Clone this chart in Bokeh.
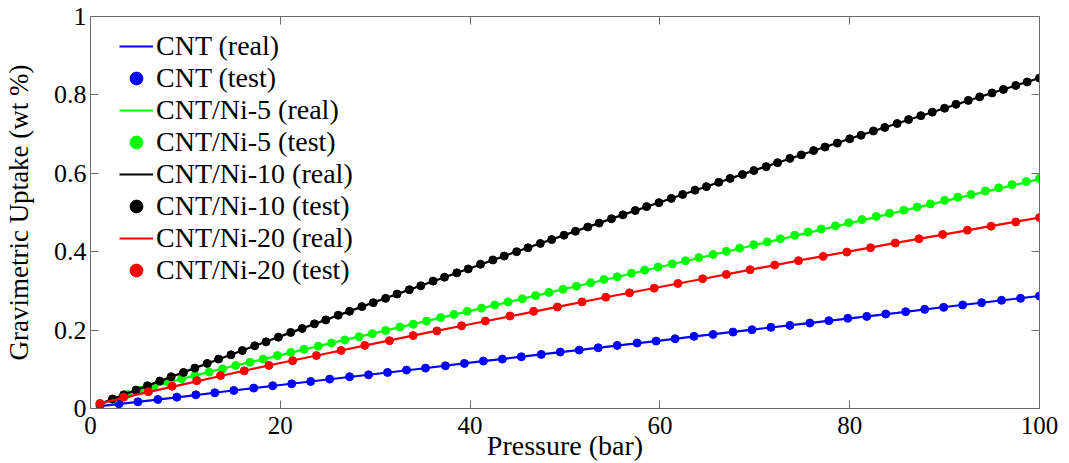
from bokeh.plotting import figure
from bokeh.models import Range1d, LinearAxis, FixedTicker, CustomJSTickFormatter
from bokeh.embed import file_html
from bokeh.resources import INLINE

# ---------------- data ----------------
real_p = [1, 5, 10, 15, 20, 25, 30, 35, 40, 45, 50, 55, 60, 65, 70, 75, 80, 85, 90, 95, 100]
cnt_real = [0.006, 0.017, 0.031, 0.046, 0.060, 0.074, 0.088, 0.102, 0.117, 0.131, 0.145,
            0.159, 0.173, 0.188, 0.202, 0.216, 0.230, 0.244, 0.259, 0.273, 0.287]
ni5_real = [0.010, 0.045, 0.078, 0.108, 0.136, 0.165, 0.193, 0.221, 0.249, 0.277, 0.305,
            0.333, 0.361, 0.389, 0.417, 0.445, 0.473, 0.501, 0.529, 0.557, 0.585]
ni10_real = [0.012, 0.049, 0.094, 0.139, 0.184, 0.228, 0.272, 0.315, 0.358, 0.401, 0.443,
             0.485, 0.526, 0.567, 0.608, 0.648, 0.688, 0.727, 0.766, 0.805, 0.843]
ni20_real = [0.013, 0.036, 0.063, 0.090, 0.116, 0.141, 0.166, 0.191, 0.215, 0.239, 0.263,
             0.287, 0.310, 0.333, 0.356, 0.379, 0.401, 0.423, 0.444, 0.466, 0.487]

cnt_test_p = [1.0, 3.0, 5.0, 7.1, 9.1, 11.1, 13.1, 15.1, 17.2, 19.2,
              21.2, 23.2, 25.2, 27.3, 29.3, 31.3, 33.3, 35.3, 37.4, 39.4,
              41.4, 43.4, 45.4, 47.5, 49.5, 51.5, 53.5, 55.5, 57.6, 59.6,
              61.6, 63.6, 65.6, 67.7, 69.7, 71.7, 73.7, 75.8, 77.8, 79.8,
              81.8, 83.8, 85.9, 87.9, 89.9, 91.9, 93.9, 96.0, 98.0, 100.0]
cnt_test = [0.006, 0.012, 0.017, 0.023, 0.029, 0.035, 0.040, 0.046, 0.052, 0.058,
            0.063, 0.069, 0.075, 0.081, 0.086, 0.092, 0.098, 0.103, 0.109, 0.115,
            0.121, 0.126, 0.132, 0.138, 0.144, 0.149, 0.155, 0.161, 0.167, 0.172,
            0.178, 0.184, 0.189, 0.195, 0.201, 0.207, 0.212, 0.218, 0.224, 0.230,
            0.235, 0.241, 0.247, 0.253, 0.258, 0.264, 0.270, 0.276, 0.281, 0.287]

ni5_test_p = [1.0, 2.4, 3.9, 5.3, 6.7, 8.2, 9.6, 11.0, 12.5, 13.9,
              15.3, 16.8, 18.2, 19.7, 21.1, 22.5, 24.0, 25.4, 26.8, 28.3,
              29.7, 31.1, 32.6, 34.0, 35.4, 36.9, 38.3, 39.7, 41.2, 42.6,
              44.0, 45.5, 46.9, 48.3, 49.8, 51.2, 52.7, 54.1, 55.5, 57.0,
              58.4, 59.8, 61.3, 62.7, 64.1, 65.6, 67.0, 68.4, 69.9, 71.3,
              72.7, 74.2, 75.6, 77.0, 78.5, 79.9, 81.3, 82.8, 84.2, 85.7,
              87.1, 88.5, 90.0, 91.4, 92.8, 94.3, 95.7, 97.1, 98.6, 100.0]
ni5_test = [0.010, 0.024, 0.036, 0.047, 0.057, 0.067, 0.076, 0.084, 0.093, 0.101,
            0.110, 0.118, 0.126, 0.135, 0.143, 0.151, 0.159, 0.167, 0.175, 0.183,
            0.191, 0.199, 0.208, 0.215, 0.223, 0.232, 0.240, 0.248, 0.256, 0.264,
            0.272, 0.280, 0.288, 0.296, 0.304, 0.312, 0.321, 0.329, 0.336, 0.345,
            0.353, 0.361, 0.369, 0.377, 0.385, 0.393, 0.401, 0.409, 0.418, 0.425,
            0.433, 0.442, 0.450, 0.458, 0.466, 0.474, 0.482, 0.490, 0.498, 0.506,
            0.514, 0.522, 0.531, 0.539, 0.546, 0.555, 0.563, 0.571, 0.579, 0.587]

ni10_test_p = [1.0, 2.3, 3.5, 4.8, 6.0, 7.3, 8.5, 9.8, 11.0, 12.3,
               13.5, 14.8, 16.0, 17.3, 18.5, 19.8, 21.1, 22.3, 23.6, 24.8,
               26.1, 27.3, 28.6, 29.8, 31.1, 32.3, 33.6, 34.8, 36.1, 37.3,
               38.6, 39.8, 41.1, 42.4, 43.6, 44.9, 46.1, 47.4, 48.6, 49.9,
               51.1, 52.4, 53.6, 54.9, 56.1, 57.4, 58.6, 59.9, 61.2, 62.4,
               63.7, 64.9, 66.2, 67.4, 68.7, 69.9, 71.2, 72.4, 73.7, 74.9,
               76.2, 77.4, 78.7, 80.0, 81.2, 82.5, 83.7, 85.0, 86.2, 87.5,
               88.7, 90.0, 91.2, 92.5, 93.7, 95.0, 96.2, 97.5, 98.7, 100.0]
ni10_test = [0.012, 0.024, 0.035, 0.047, 0.058, 0.070, 0.081, 0.092, 0.103, 0.115,
             0.126, 0.137, 0.148, 0.160, 0.170, 0.182, 0.194, 0.204, 0.216, 0.226,
             0.238, 0.248, 0.260, 0.270, 0.281, 0.292, 0.303, 0.313, 0.325, 0.335,
             0.346, 0.356, 0.368, 0.379, 0.389, 0.400, 0.410, 0.421, 0.431, 0.442,
             0.452, 0.463, 0.473, 0.484, 0.494, 0.505, 0.515, 0.525, 0.536, 0.546,
             0.557, 0.566, 0.577, 0.587, 0.597, 0.607, 0.617, 0.627, 0.638, 0.647,
             0.658, 0.667, 0.677, 0.688, 0.697, 0.708, 0.717, 0.727, 0.737, 0.747,
             0.756, 0.766, 0.776, 0.786, 0.795, 0.805, 0.814, 0.824, 0.833, 0.843]

ni20_test_p = [1.0, 3.5, 6.1, 8.6, 11.2, 13.7, 16.2, 18.8, 21.3, 23.8,
               26.4, 28.9, 31.5, 34.0, 36.5, 39.1, 41.6, 44.2, 46.7, 49.2,
               51.8, 54.3, 56.8, 59.4, 61.9, 64.5, 67.0, 69.5, 72.1, 74.6,
               77.2, 79.7, 82.2, 84.8, 87.3, 89.8, 92.4, 94.9, 97.5, 100.0]
ni20_test = [0.013, 0.029, 0.043, 0.057, 0.071, 0.084, 0.096, 0.110, 0.122, 0.135,
             0.148, 0.161, 0.173, 0.186, 0.198, 0.211, 0.223, 0.236, 0.248, 0.259,
             0.272, 0.284, 0.295, 0.307, 0.319, 0.331, 0.342, 0.354, 0.366, 0.377,
             0.388, 0.399, 0.410, 0.422, 0.433, 0.444, 0.455, 0.465, 0.476, 0.487]

x_ticks = [0, 20, 40, 60, 80, 100]
y_ticks = [0, 0.2, 0.4, 0.6, 0.8, 1]
x_title = "Pressure (bar)"
y_title = "Gravimetric Uptake (wt %)"

FONT = "Liberation Serif"
AXIS_COLOR = "#6a6a6a"

# ---------------- figure ----------------
p = figure(width=1064, height=463, output_backend="svg", toolbar_location=None,
           x_range=Range1d(0, 100), y_range=Range1d(0, 1),
           min_border_left=89, min_border_right=25, min_border_top=16, min_border_bottom=55)
p.grid.visible = False
p.outline_line_color = None
p.background_fill_color = "white"
p.border_fill_color = "white"

series = [
    ("CNT", "#0000ff", cnt_real, cnt_test_p, cnt_test),
    ("CNT/Ni-5", "#00ff00", ni5_real, ni5_test_p, ni5_test),
    ("CNT/Ni-10", "#000000", ni10_real, ni10_test_p, ni10_test),
    ("CNT/Ni-20", "#ff0000", ni20_real, ni20_test_p, ni20_test),
]
for name, col, real, tp, tv in series:
    p.line(real_p, real, line_color=col, line_width=2.2, legend_label=f"{name} (real)")
    p.scatter(tp, tv, marker="circle", size=8, fill_color=col, line_color=col,
              legend_label=f"{name} (test)")


def style_axis(ax, labels=True):
    ax.axis_line_color = AXIS_COLOR
    ax.major_tick_line_color = AXIS_COLOR
    ax.minor_tick_line_color = None
    ax.major_tick_in = 8
    ax.major_tick_out = 0
    ax.major_label_text_font = FONT
    ax.major_label_text_font_size = "26px"
    ax.major_label_text_color = "black"
    ax.axis_label_text_font = FONT
    ax.axis_label_text_font_size = "27px"
    ax.axis_label_text_font_style = "normal"
    ax.axis_label_text_color = "black"
    if not labels:
        ax.major_label_text_font_size = "0px"
        ax.major_label_standoff = 0


xa = p.xaxis[0]
xa.ticker = FixedTicker(ticks=x_ticks)
style_axis(xa)
xa.major_label_text_font_size = "25px"
xa.major_label_standoff = 8
xa.axis_label = x_title
xa.axis_label_text_font_size = "28px"
xa.axis_label_standoff = -7

ya = p.yaxis[0]
ya.ticker = FixedTicker(ticks=y_ticks)
style_axis(ya)
ya.formatter = CustomJSTickFormatter(code="return (Math.round(tick*10)/10).toString();")
ya.major_label_standoff = 4
ya.axis_label = y_title
ya.axis_label_standoff = 17

top = LinearAxis(ticker=FixedTicker(ticks=x_ticks),
                 formatter=CustomJSTickFormatter(code="return '';"))
style_axis(top, labels=False)
p.add_layout(top, "above")
right = LinearAxis(ticker=FixedTicker(ticks=y_ticks),
                   formatter=CustomJSTickFormatter(code="return '';"))
style_axis(right, labels=False)
p.add_layout(right, "right")

lg = p.legend[0]
lg.location = (29, 122)
lg.border_line_color = None
lg.background_fill_alpha = 0
lg.padding = 0
lg.margin = 0
lg.spacing = 0
lg.glyph_width = 34
lg.glyph_height = 32
lg.label_height = 32
lg.label_standoff = 3
lg.label_text_font = FONT
lg.label_text_font_size = "28px"
lg.label_text_color = "black"

open("out.html", "w").write(file_html(p, INLINE))
